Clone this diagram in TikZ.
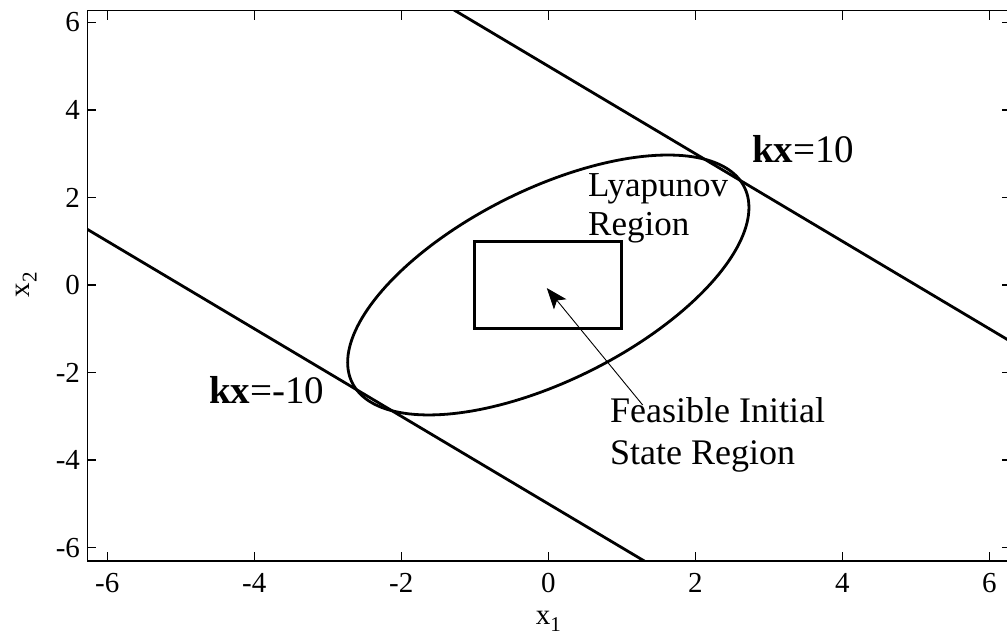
\documentclass[tikz,border=0pt]{standalone}
\usepackage{fontspec}
\setmainfont{Liberation Serif}
\usetikzlibrary{arrows.meta}
\tikzset{
  axisline/.style={line width=1.6pt},
  tickmark/.style={line width=1.4pt},
  curve/.style={line width=2.8pt, line join=round},
  ticklab/.style={inner sep=0pt, font=\fontsize{29}{34}\selectfont},
  lab/.style={inner sep=0pt, anchor=base west, font=\fontsize{35}{41}\selectfont},
  klab/.style={inner sep=0pt, anchor=base west, font=\fontsize{39}{45}\selectfont},
  pointer/.style={line width=0.9pt, -{Stealth[length=21pt, width=16pt, inset=5pt]}},
}
\begin{document}
\begin{tikzpicture}[x=73.5pt, y=43.77pt]
\useasboundingbox (-7.460,-8.156) rectangle (6.241,6.511);
\clip (-7.460,-8.156) rectangle (6.241,6.511);
\fill[white] (-7.460,-8.156) rectangle (6.241,6.511);
% axes box
\draw[axisline] (-6.27,-6.3) rectangle (6.3,6.27);
% ticks
\foreach \i in {-6,-4,-2,0,2,4,6} {
  \draw[tickmark] (\i,-6.3) -- ++(0pt,9pt);
  \draw[tickmark] (\i,6.27) -- ++(0pt,-9pt);
  \draw[tickmark] (-6.27,\i) -- ++(9pt,0pt);
  \draw[tickmark] (6.3,\i) -- ++(-9pt,0pt);
  \node[ticklab, anchor=base] (xt\i) at (\i,-7.037) {\i};
  \node[ticklab, anchor=east] (yt\i) at (-6.37,\i) {\i};
}
% axis labels
\node[inner sep=0pt, anchor=base, font=\fontsize{29}{34}\selectfont] (xlab) at (0,-7.75) {x\raisebox{-0.25em}{\fontsize{21}{24}\selectfont 1}};
\node[inner sep=0pt, rotate=90, font=\fontsize{29}{34}\selectfont] (ylab) at (-7.1,0) {x\raisebox{-0.25em}{\fontsize{21}{24}\selectfont 2}};
% constraint lines
\begin{scope}
\clip (-6.27,-6.3) rectangle (6.3,6.27);
\draw[curve] (-6.4,1.4) -- (1.4,-6.4);
\draw[curve] (-1.4,6.4) -- (6.4,-1.4);
\end{scope}
% Lyapunov ellipse
\draw[curve] plot[domain=0:360, samples=181] ({2.73*cos(\x)}, {1.769*cos(\x)+2.385*sin(\x)}) -- cycle;
% feasible initial state box
\draw[curve, line join=miter] (-1,-1) rectangle (1,1);
% labels
\node[lab] (lyapA) at (0.540,2.011) {Lyapunov};
\node[lab] (lyapB) at (0.540,1.12) {Region};
\node[lab, font=\fontsize{36}{41}\selectfont] (feasA) at (0.839,-3.153) {Feasible Initial};
\node[lab, font=\fontsize{36}{41}\selectfont] (feasB) at (0.839,-4.09) {State Region};
\node[klab] (kpos) at (2.769,2.787) {\textbf{kx}=10};
\node[klab] (kneg) at (-4.617,-2.719) {\textbf{kx}=-10};
% arrow
\coordinate (tail) at (1.284,-2.742);
\coordinate (tip) at (-0.02,-0.07);
\draw[pointer] (tail) -- (tip);
\end{tikzpicture}
\end{document}
